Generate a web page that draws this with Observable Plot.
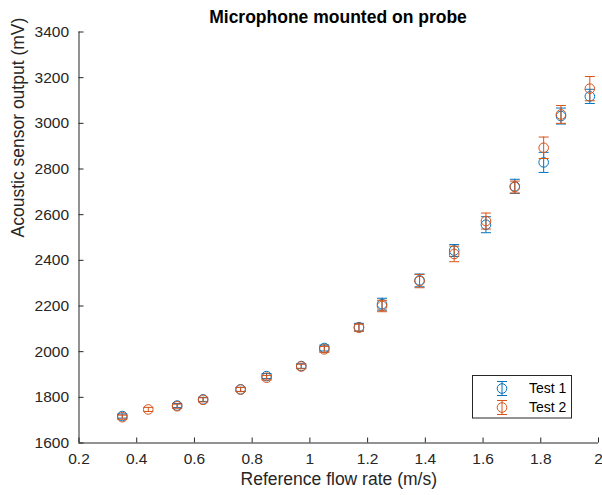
<!DOCTYPE html>
<html>
<head>
<meta charset="utf-8">
<script src="https://cdn.jsdelivr.net/npm/d3@7"></script>
<script src="https://cdn.jsdelivr.net/npm/@observablehq/plot@0.6"></script>
<style>
  body { margin: 0; background: #fff; font-family: "Liberation Sans", Arial, Helvetica, sans-serif; }
  #wrap { position: relative; width: 602px; height: 495px; overflow: hidden; }
  #title { height: 22px; padding-top: 6px; line-height: 22px; padding-left: 78px; width: 520px;
           text-align: center; font-weight: bold; font-size: 17.5px; color: #000; }
  #legend { position: absolute; left: 472px; top: 375px; }
</style>
</head>
<body>
<div id="wrap">
  <div id="title">Microphone mounted on probe</div>
  <div id="chart"></div>
  <div id="legend"></div>
</div>
<script>
// Flow rate (m/s), mean sensor output (mV) and error half-width (mV) per test run
const test1X   = [0.35, 0.54, 0.63, 0.76, 0.85, 0.97, 1.05, 1.17, 1.25, 1.38, 1.50, 1.61, 1.71, 1.81, 1.87, 1.97];
const test1Y   = [1718, 1764, 1791, 1835, 1893, 1937, 2016, 2107, 2208, 2312, 2443, 2556, 2724, 2829, 3032, 3118];
const test1Err = [9, 9, 9, 9, 11, 10, 13, 17, 26, 28, 26, 35, 31, 44, 35, 31];

const test2X   = [0.35, 0.44, 0.54, 0.63, 0.76, 0.85, 0.97, 1.05, 1.17, 1.25, 1.38, 1.50, 1.61, 1.71, 1.81, 1.87, 1.97];
const test2Y   = [1713, 1747, 1761, 1789, 1834, 1886, 1935, 2010, 2105, 2200, 2309, 2428, 2572, 2721, 2893, 3039, 3152];
const test2Err = [9, 9, 9, 9, 9, 10, 10, 13, 15, 25, 29, 34, 35, 26, 47, 39, 53];

const seriesNames  = ["Test 1", "Test 2"];
const seriesColors = ["#0072BD", "#D95319"];

const xDomain = [0.2, 2];
const yDomain = [1600, 3400];
const xTicks = [0.2, 0.4, 0.6, 0.8, 1, 1.2, 1.4, 1.6, 1.8, 2];
const yTicks = [1600, 1800, 2000, 2200, 2400, 2600, 2800, 3000, 3200, 3400];

const xLabel = "Reference flow rate (m/s)";
const yLabel = "Acoustic sensor output (mV)";

const rows = (xs, ys, es) => xs.map((x, i) => ({x, y: ys[i], lo: ys[i] - es[i], hi: ys[i] + es[i]}));
const series = [rows(test1X, test1Y, test1Err), rows(test2X, test2Y, test2Err)];

// horizontal dash used for the error bar caps
const capSymbol = {
  draw(ctx, size) {
    const h = Math.sqrt(size / Math.PI);
    ctx.moveTo(-h, 0);
    ctx.lineTo(h, 0);
  }
};

const W = 602, H = 467;
const mL = 78.5, mR = 4, mT = 3.5, mB = 52.5;
const plotW = W - mL - mR, plotH = H - mT - mB;
const axisColor = "#262626";
const font = '"Liberation Sans", Arial, Helvetica, sans-serif';

const errorMarks = series.flatMap((data, i) => [
  Plot.ruleX(data, {x: "x", y1: "lo", y2: "hi", stroke: seriesColors[i], strokeWidth: 1}),
  Plot.dot(data, {x: "x", y: "lo", symbol: capSymbol, r: 5, stroke: seriesColors[i], strokeWidth: 1}),
  Plot.dot(data, {x: "x", y: "hi", symbol: capSymbol, r: 5, stroke: seriesColors[i], strokeWidth: 1}),
  Plot.dot(data, {x: "x", y: "y", r: 4.8, fill: "none", stroke: seriesColors[i], strokeWidth: 1})
]);

const chart = Plot.plot({
  width: W, height: H,
  marginLeft: mL, marginRight: mR, marginTop: mT, marginBottom: mB,
  style: {fontFamily: font, fontSize: "15.5px", color: axisColor, background: "transparent", overflow: "visible"},
  x: {domain: xDomain},
  y: {domain: yDomain},
  marks: [
    Plot.axisX({ticks: xTicks, tickSize: 0, tickPadding: 10, tickFormat: d => String(d), label: null,
                fill: axisColor, fontSize: 15.5}),
    Plot.axisY({ticks: yTicks, tickSize: 0, tickPadding: 10, tickFormat: d => String(d), label: null,
                fill: axisColor, fontSize: 15.5}),
    // inward-pointing ticks
    Plot.tickX(xTicks, {x: d => d, insetTop: plotH - 5, stroke: axisColor, strokeWidth: 1}),
    Plot.tickY(yTicks, {y: d => d, insetRight: plotW - 5, stroke: axisColor, strokeWidth: 1}),
    // left and bottom axis lines
    Plot.ruleX([xDomain[0]], {stroke: axisColor, strokeWidth: 1}),
    Plot.ruleY([yDomain[0]], {stroke: axisColor, strokeWidth: 1}),
    ...errorMarks,
    Plot.text([xLabel], {frameAnchor: "bottom", dy: 42, fontSize: 17.5, fill: axisColor}),
    Plot.text([yLabel], {frameAnchor: "left", rotate: -90, dx: -61, fontSize: 17.5, fill: axisColor})
  ]
});
document.getElementById("chart").appendChild(chart);

// legend box
const lg = d3.select("#legend").append("svg").attr("width", 101).attr("height", 44);
lg.append("rect").attr("x", 0.5).attr("y", 0.5).attr("width", 99).attr("height", 42.5)
  .attr("fill", "#fff").attr("stroke", axisColor).attr("stroke-width", 1);
seriesNames.forEach((name, i) => {
  const cy = 13.5 + i * 19, cx = 30;
  const g = lg.append("g").attr("stroke", seriesColors[i]).attr("fill", "none").attr("stroke-width", 1);
  g.append("line").attr("x1", cx).attr("x2", cx).attr("y1", cy - 7).attr("y2", cy + 7);
  g.append("line").attr("x1", cx - 5).attr("x2", cx + 5).attr("y1", cy - 7).attr("y2", cy - 7);
  g.append("line").attr("x1", cx - 5).attr("x2", cx + 5).attr("y1", cy + 7).attr("y2", cy + 7);
  g.append("circle").attr("cx", cx).attr("cy", cy).attr("r", 4.8);
  lg.append("text").attr("x", 57).attr("y", cy).attr("dy", "0.35em")
    .attr("font-family", font).attr("font-size", 14).attr("fill", "#000").text(name);
});
</script>
</body>
</html>
